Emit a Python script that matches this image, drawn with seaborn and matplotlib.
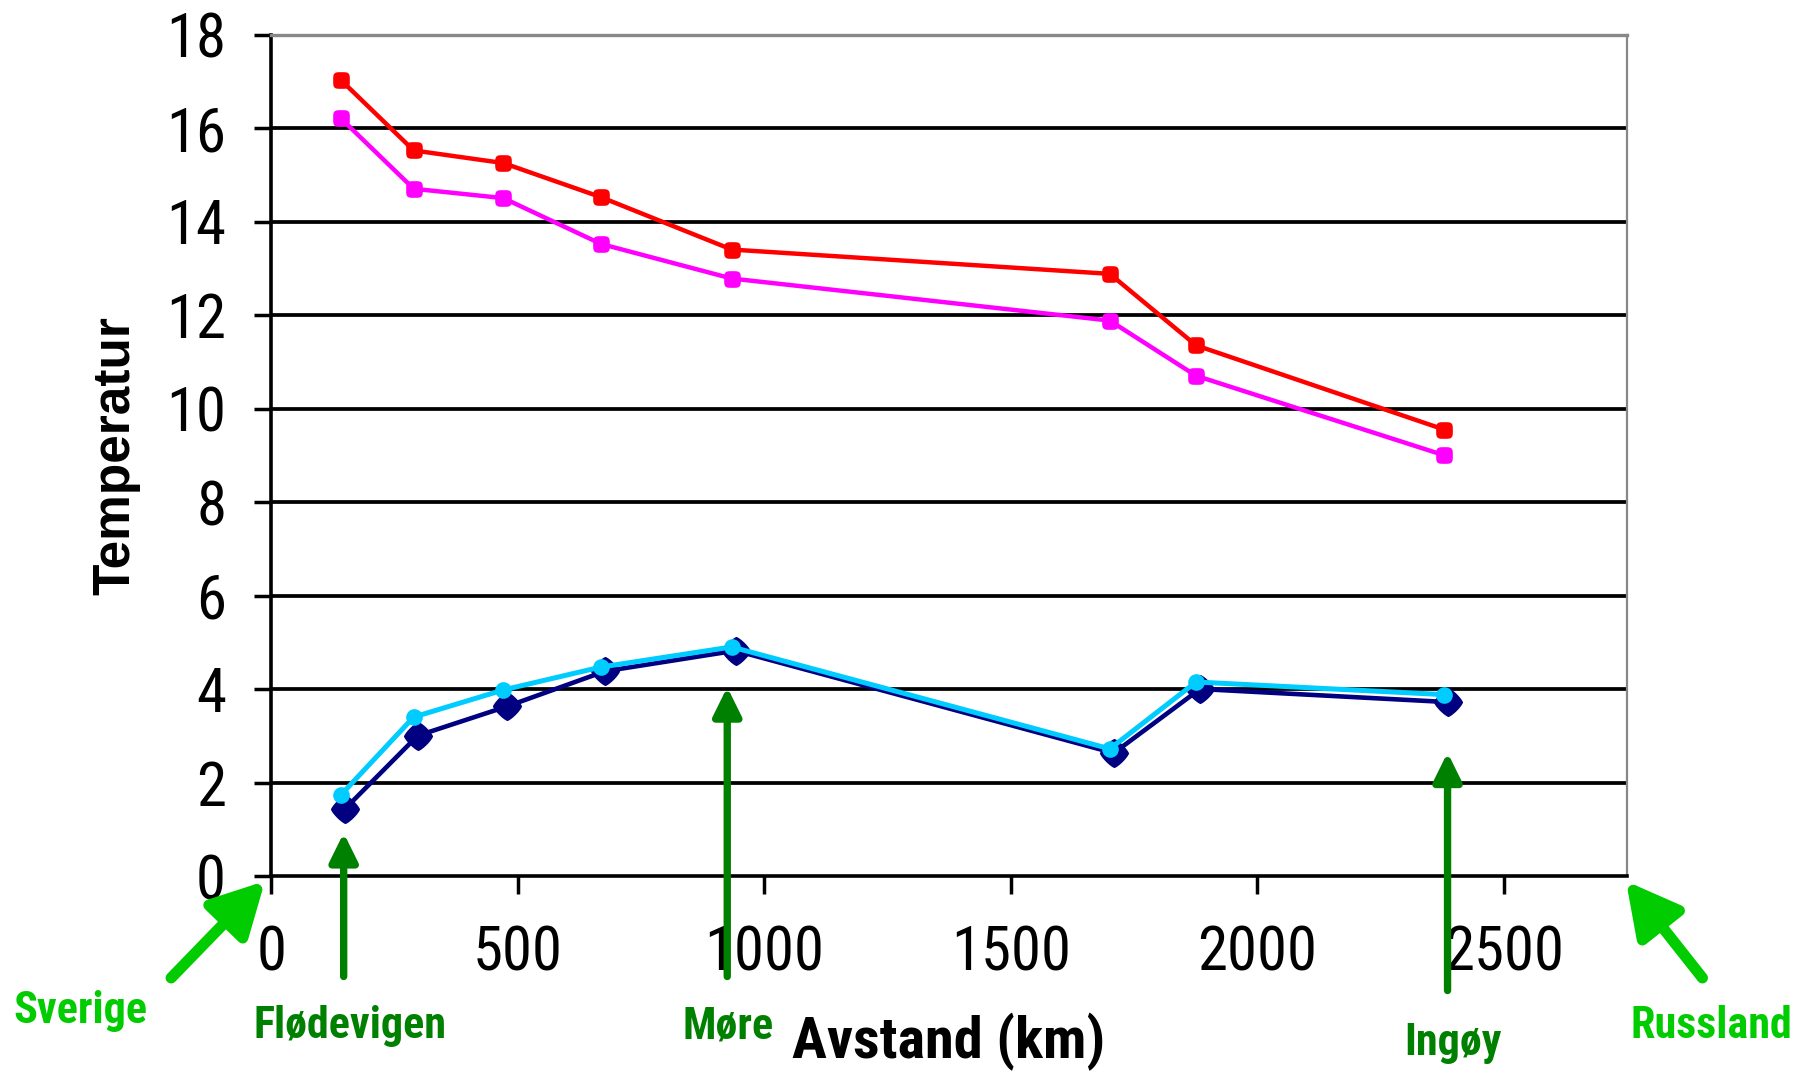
import numpy as np
import pandas as pd
import matplotlib
matplotlib.use("Agg")
import matplotlib.pyplot as plt
import seaborn as sns
from matplotlib import font_manager
from matplotlib.path import Path

# ---- data ----
distance_km = [141, 289, 471, 669, 934, 1701, 1876, 2379]
distance_navy_km = [149, 297, 479, 677, 942, 1709, 1884, 2387]
temp_red = [17.03, 15.52, 15.25, 14.52, 13.4, 12.88, 11.35, 9.55]
temp_magenta = [16.21, 14.7, 14.5, 13.52, 12.78, 11.88, 10.7, 9.0]
temp_navy = [1.43, 3.0, 3.63, 4.38, 4.82, 2.63, 4.0, 3.72]
temp_cyan = [1.73, 3.4, 3.98, 4.47, 4.9, 2.72, 4.15, 3.88]

y_ticks = [0, 2, 4, 6, 8, 10, 12, 14, 16, 18]
x_ticks = [0, 500, 1000, 1500, 2000, 2500]

places = ["Flødevigen", "Møre", "Ingøy"]
place_km = [147, 925, 2386]
ends = ["Sverige", "Russland"]

sns.set_theme(style="white")

available = {f.name for f in font_manager.fontManager.ttflist}
narrow = None
for cand in ["Liberation Sans Narrow", "Arial Narrow", "Roboto Condensed",
             "Open Sans Condensed", "DejaVu Sans Condensed"]:
    if cand in available:
        narrow = cand
        break
if narrow is None:
    narrow_family = ["Liberation Sans", "DejaVu Sans"]
    scale = 1.0
else:
    narrow_family = [narrow, "Liberation Sans", "DejaVu Sans"]
    scale = 1.25
plt.rcParams["font.family"] = narrow_family

fig = plt.figure(figsize=(18.02, 10.75), dpi=100)
ax = fig.add_axes([271.2 / 1802, 1 - 876 / 1075, 1355.8 / 1802, 841.5 / 1075])

df = pd.DataFrame({
    "dist": distance_km,
    "dist_navy": distance_navy_km,
    "red": temp_red,
    "magenta": temp_magenta,
    "navy": temp_navy,
    "cyan": temp_cyan,
})

# rounded-square and rounded-diamond markers (superellipses)
t = np.linspace(0, 2 * np.pi, 64)
c, s = np.cos(t), np.sin(t)
rsq = Path(np.column_stack([np.sign(c) * np.abs(c) ** 0.5, np.sign(s) * np.abs(s) ** 0.5]), closed=True)
rdiamond = Path(np.column_stack([np.sign(c) * np.abs(c) ** 1.6, np.sign(s) * np.abs(s) ** 1.6]), closed=True)

ax.set_ylim(0, 18)
ax.set_xlim(0, 2750)
ax.set_yticks(y_ticks)
ax.set_xticks(x_ticks)
for yv in y_ticks[1:-1]:
    ax.axhline(yv, color="black", lw=2.7, zorder=1)

sns.lineplot(data=df, x="dist", y="magenta", color="#FF00FF", lw=3.2, marker=rsq,
             markersize=12, markeredgewidth=0, sort=False, ax=ax, zorder=3)
sns.lineplot(data=df, x="dist", y="red", color="#FF0000", lw=3.2, marker=rsq,
             markersize=12, markeredgewidth=0, sort=False, ax=ax, zorder=3)
sns.lineplot(data=df, x="dist_navy", y="navy", color="#000080", lw=3.3, marker=rdiamond,
             markersize=21, markeredgewidth=0, sort=False, ax=ax, zorder=3)
sns.lineplot(data=df, x="dist", y="cyan", color="#00CCFF", lw=3.6, marker="o",
             markersize=12, markeredgewidth=0, sort=False, ax=ax, zorder=4)

ax.spines["left"].set_color("black")
ax.spines["left"].set_linewidth(2.6)
ax.spines["bottom"].set_color("black")
ax.spines["bottom"].set_linewidth(2.6)
ax.spines["top"].set_color("#888888")
ax.spines["top"].set_linewidth(2.4)
ax.spines["right"].set_color("#888888")
ax.spines["right"].set_linewidth(1.6)
for sp in ax.spines.values():
    sp.set_zorder(2)

ax.tick_params(axis="y", which="major", left=True, length=12.5, width=2.5,
               color="black", pad=20, labelsize=35 * scale, labelcolor="black", direction="out")
ax.tick_params(axis="x", which="major", bottom=True, length=13, width=2.5,
               color="black", pad=22, labelsize=35 * scale, labelcolor="black", direction="out")

ax.set_ylabel("Temperatur", fontsize=37, fontweight="bold", color="black",
              family=["Liberation Sans", "DejaVu Sans"])
ax.yaxis.set_label_coords(-0.0966, 0.5)
ax.set_xlabel("Avstand (km)", fontsize=35 * (1.2 if narrow else 1.0), fontweight="bold",
              color="black")
ax.xaxis.set_label_coords(0.5, -0.162)

dark_green = "#008000"
tips = [0.92, 4.04, 2.64]
tails = [-2.15, -2.15, -2.45]
label_y = [-3.21, -3.21, -3.58]
label_x = [160.7, 927.5, 2398]
for name, xk, tip, tail, lx, ly in zip(places, place_km, tips, tails, label_x, label_y):
    ax.annotate("", xy=(xk, tip), xytext=(xk, tail), xycoords="data",
                arrowprops=dict(arrowstyle="-|>,head_length=0.85,head_width=0.42",
                                mutation_scale=20, color=dark_green, lw=5.3,
                                shrinkA=0, shrinkB=0),
                annotation_clip=False, zorder=5)
    ax.text(lx, ly, name, color=dark_green, fontsize=26.5 * (1.2 if narrow else 1.0),
            fontweight="bold", ha="center", va="center", clip_on=False)

bright_green = "#00CC00"
end_tail = [(-203, -2.18), (2903, -2.18)]
end_tip = [(-12.6, -0.11), (2748, -0.11)]
end_label = [(-387, -2.89), (2921, -3.21)]
for name, tl, tp, lb in zip(ends, end_tail, end_tip, end_label):
    ax.annotate("", xy=tp, xytext=tl, xycoords="data",
                arrowprops=dict(arrowstyle="-|>,head_length=1.6,head_width=0.85",
                                mutation_scale=20, color=bright_green, lw=8,
                                shrinkA=0, shrinkB=0),
                annotation_clip=False, zorder=5)
    ax.text(lb[0], lb[1], name, color=bright_green, fontsize=26.5 * (1.2 if narrow else 1.0),
            fontweight="bold", ha="center", va="center", clip_on=False)

fig.savefig("out.png", dpi=100)
